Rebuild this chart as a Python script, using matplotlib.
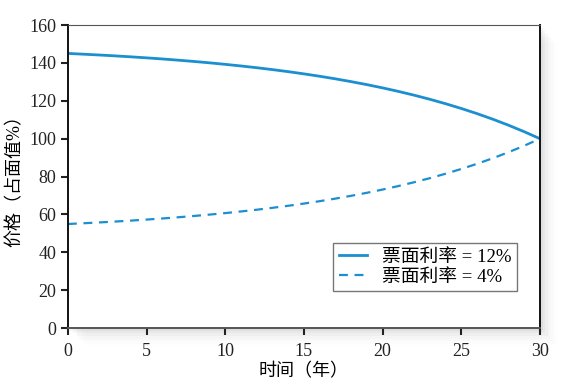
import matplotlib
matplotlib.use("Agg")
import matplotlib.pyplot as plt
from matplotlib.patches import Rectangle

plt.rcParams['font.family'] = ['Liberation Serif', 'Noto Sans CJK SC', 'DejaVu Sans']

years = list(range(0, 31))
price_12 = [145.03, 144.63, 144.20, 143.74, 143.24, 142.70, 142.12, 141.48, 140.80, 140.07,
            139.27, 138.41, 137.49, 136.49, 135.41, 134.24, 132.98, 131.62, 130.14, 128.56,
            126.84, 124.99, 122.99, 120.83, 118.49, 115.97, 113.25, 110.31, 107.13, 103.70, 100.00]
price_4 = [54.97, 55.37, 55.80, 56.26, 56.76, 57.30, 57.88, 58.52, 59.20, 59.93,
           60.73, 61.59, 62.51, 63.51, 64.59, 65.76, 67.02, 68.38, 69.86, 71.44,
           73.16, 75.01, 77.01, 79.17, 81.51, 84.03, 86.75, 89.69, 92.87, 96.30, 100.00]
labels = ['票面利率 = 12%', '票面利率 = 4%']
xticks = [0, 5, 10, 15, 20, 25, 30]
yticks = [0, 20, 40, 60, 80, 100, 120, 140, 160]

color = '#1b8fcf'
fig = plt.figure(figsize=(5.66, 3.86), dpi=100)
ax = fig.add_axes([0.120, 0.150, 0.834, 0.785])
ax.set_zorder(2)
ax.patch.set_facecolor('white')

# soft shadow to the right and below the plot area (drawn behind the axes)
for i, a in enumerate([0.035, 0.028, 0.022, 0.016, 0.011, 0.007, 0.004]):
    off = 0.0045 * (i + 1)
    fig.patches.append(Rectangle((0.120 + off, 0.150 - off * 1.5), 0.834, 0.785,
                                 transform=fig.transFigure, facecolor='black', alpha=a,
                                 edgecolor='none', zorder=0))

ax.plot(years, price_12, color=color, lw=2.0, label=labels[0])
ax.plot(years, price_4, color=color, lw=1.6, ls=(0, (4, 3)), label=labels[1])

ax.set_xlim(0, 30)
ax.set_ylim(0, 160)
ax.set_xticks(xticks)
ax.set_yticks(yticks)
ax.tick_params(axis='both', direction='out', labelsize=13, length=5, width=1.5, colors='#222222')
ax.tick_params(axis='x', pad=6)
for s in ['left', 'right']:
    ax.spines[s].set_color('#111111')
    ax.spines[s].set_linewidth(1.4)
ax.spines['top'].set_color('#555555')
ax.spines['bottom'].set_color('#555555')
ax.spines['bottom'].set_linewidth(1.4)

ax.set_xlabel('时间（年）', fontsize=13, labelpad=2)
ax.set_ylabel('价格（占面值%）', fontsize=13, labelpad=4)

leg = ax.legend(loc='lower right', bbox_to_anchor=(0.972, 0.09), fontsize=13.5, frameon=True,
                fancybox=False, edgecolor='#555555', handlelength=1.5, borderpad=0.3,
                labelspacing=0.15, handletextpad=0.8)
leg.get_frame().set_linewidth(1.0)

fig.savefig('out.png', dpi=100, facecolor='white')
